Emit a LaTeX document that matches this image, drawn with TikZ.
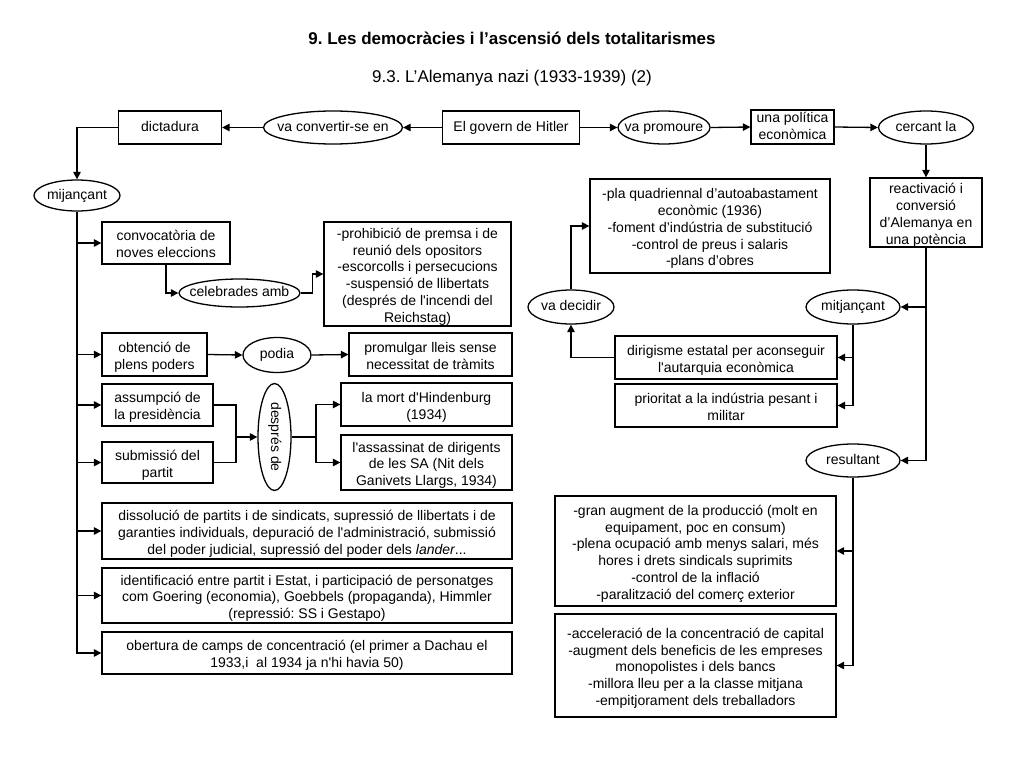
\documentclass[tikz,border=0pt]{standalone}
\usepackage{fontspec}
\newfontfamily\arial{Liberation Sans}
\usetikzlibrary{shapes.geometric,arrows.meta}
\frenchspacing
\newcommand{\ts}{\rule{0pt}{15.5pt}}
\tikzset{
  box/.style={draw, line width=1.3pt, inner sep=0pt, align=center},
  boxone/.style={draw, line width=1.3pt, inner sep=0pt, text height=10pt, text depth=3pt},
  oval/.style={draw, ellipse, line width=1.3pt, inner sep=0pt, text height=10pt, text depth=3pt},
  con/.style={line width=1.3pt},
  arr/.style={line width=1.3pt, -{Triangle[length=7.5pt,width=7.5pt]}},
}
\newcommand{\zb}[1]{\makebox[0pt]{#1}}
\begin{document}
\begin{tikzpicture}[x=1pt,y=-1pt,font=\arial\fontsize{14}{16.8}\selectfont]
\useasboundingbox[fill=white] (0,0) rectangle (1024,768);
% titles
\node[font=\arial\fontsize{17}{20}\selectfont\bfseries] (title) at (512,38) {9. Les democràcies i l’ascensió dels totalitarismes};
\node[font=\arial\fontsize{17}{20}\selectfont] (subtitle) at (512,78) {9.3. L’Alemanya nazi (1933-1939) (2)};
% top row
\node[boxone, minimum width=137, minimum height=33] (hit) at (511,127.5) {El govern de Hitler};
\node[oval, minimum width=139, minimum height=33] (conv) at (333,127.5) {\zb{va convertir-se en}};
\node[boxone, minimum width=103, minimum height=33] (dict) at (170,127.5) {dictadura};
\node[oval, minimum width=92, minimum height=33] (prom) at (664,127.5) {\zb{va promoure}};
\node[box, minimum width=83, minimum height=34] (pol) at (792.5,127) {una política\\econòmica\vphantom{g}};
\node[oval, minimum width=95, minimum height=33] (cer) at (926,127.5) {\zb{cercant la}};
% right side
\node[box, minimum width=112, minimum height=69] (rea) at (926,212.5) {\ts reactivació i\\conversió\\d’Alemanya en\\una potència\vphantom{g}};
\node[box, minimum width=240, minimum height=94] (pla) at (710,226) {\ts -pla quadriennal d’autoabastament\\econòmic (1936)\\-foment d’indústria de substitució\\-control de preus i salaris\\-plans d’obres};
\node[oval, minimum width=86, minimum height=34] (dec) at (571,307) {\zb{va decidir}};
\node[oval, minimum width=94, minimum height=34] (mit) at (853,307) {\zb{mitjançant}};
\node[box, minimum width=222, minimum height=43] (dir) at (726,357.5) {\ts dirigisme estatal per aconseguir\\l'autarquia econòmica\vphantom{g}};
\node[box, minimum width=222, minimum height=43] (pri) at (726,405.5) {\ts prioritat a la indústria pesant i\\militar\vphantom{g}};
\node[oval, minimum width=94, minimum height=33] (res) at (853,460.5) {\zb{resultant}};
\node[box, minimum width=281, minimum height=110] (gran) at (695.5,551) {\ts -gran augment de la producció (molt en\\equipament, poc en consum)\\-plena ocupació amb menys salari, més\\hores i drets sindicals suprimits\\-control de la inflació\\-paralització del comerç exterior\vphantom{g}};
\node[box, minimum width=281, minimum height=103] (acc) at (695.5,665.5) {\ts -acceleració de la concentració de capital\\-augment dels beneficis de les empreses\\monopolistes i dels bancs\\-millora lleu per a la classe mitjana\\-empitjorament dels treballadors\vphantom{g}};
% left side
\node[oval, minimum width=86, minimum height=31] (mij) at (77,195.5) {\zb{mijançant}};
\node[box, minimum width=128, minimum height=42] (con) at (166,243) {\ts convocatòria de\\noves eleccions\vphantom{g}};
\node[oval, minimum width=121, minimum height=28] (cel) at (239.5,293) {\zb{celebrades amb}};
\node[box, minimum width=187, minimum height=104] (pro) at (417.5,274) {\ts -prohibició de premsa i de\\reunió dels opositors\\-escorcolls i persecucions\\-suspensió de llibertats\\(després de l'incendi del\\Reichstag)};
\node[box, minimum width=105, minimum height=43] (obt) at (154.5,354.5) {\ts obtenció de\\plens poders};
\node[oval, minimum width=68, minimum height=35] (pod) at (277,355) {\zb{podia}};
\node[box, minimum width=163, minimum height=43] (prm) at (430.5,354.5) {\ts promulgar lleis sense\\necessitat de tràmits\vphantom{g}};
\node[box, minimum width=111, minimum height=42] (ass) at (157.5,405) {\ts assumpció de\\la presidència\vphantom{g}};
\node[box, minimum width=111, minimum height=41] (sub) at (157.5,462.5) {\ts submissió del\\partit\vphantom{g}};
\node[oval, rotate=-90, minimum width=107, minimum height=33] (des) at (274.5,437) {\zb{després de}};
\node[box, minimum width=171, minimum height=43] (mor) at (426.5,404.5) {\ts la mort d'Hindenburg\\(1934)};
\node[box, minimum width=171, minimum height=55] (asn) at (426.5,462.5) {\ts l'assassinat de dirigents\\de les SA (Nit dels\\Ganivets Llargs, 1934)};
\node[box, minimum width=410, minimum height=56] (dis) at (307,531) {\ts dissolució de partits i de sindicats, supressió de llibertats i de\\garanties individuals, depuració de l'administració, submissió\\del poder judicial, supressió del poder dels \textit{lander}...\vphantom{g}};
\node[box, minimum width=410, minimum height=55] (ide) at (307,595.5) {\ts identificació entre partit i Estat, i participació de personatges\\com Goering (economia), Goebbels (propaganda), Himmler\\(repressió: SS i Gestapo)};
\node[box, minimum width=410, minimum height=42] (obe) at (307,653) {\ts obertura de camps de concentració (el primer a Dachau el\\1933,i\ \ al 1934 ja n'hi havia 50)};
% connectors top
\draw[arr] (hit.west) -- (conv.east);
\draw[arr] (conv.west) -- (dict.east);
\draw[arr] (hit.east) -- (prom.west);
\draw[arr] (prom.east) -- (pol.west);
\draw[arr] (pol.east) -- (cer.west);
\draw[arr] (cer.south) -- (rea.north);
% left trunk
\draw[arr] (dict.west) -| (mij.north);
\draw[arr] (mij.south) |- (obe.west);
\draw[arr] (mij.south |- con.west) -- (con.west);
\draw[arr] (mij.south |- obt.west) -- (obt.west);
\draw[arr] (mij.south |- ass.west) -- (ass.west);
\draw[arr] (mij.south |- sub.west) -- (sub.west);
\draw[arr] (mij.south |- dis.west) -- (dis.west);
\draw[arr] (mij.south |- ide.west) -- (ide.west);
\draw[arr] (con.south) |- (cel.west);
\draw[arr] (cel.east) -- ++(12,0) |- (pro.west);
\draw[arr] (obt.east) -- (pod.west);
\draw[arr] (pod.east) -- (prm.west);
\coordinate (jl) at (236,437);
\coordinate (jr) at (316,437);
\draw[con] (ass.east) -| (jl);
\draw[con] (sub.east) -| (jl);
\draw[arr] (jl) -- (des);
\draw[con] (des) -- (jr);
\draw[arr] (jr) |- (mor.west);
\draw[arr] (jr) |- (asn.west);
% right
\coordinate (rt) at (rea.south |- res.east);
\draw[con] (rea.south) -- (rt);
\draw[arr] (rea.south |- mit.east) -- (mit.east);
\draw[arr] (rt) -- (res.east);
\draw[arr] (mit.south) |- (pri.east);
\draw[arr] (mit.south |- dir.east) -- (dir.east);
\draw[arr] (dir.west) -| (dec.south);
\draw[arr] (dec.north) |- (pla.west);
\draw[arr] (res.south) |- (acc.east);
\draw[arr] (res.south |- gran.east) -- (gran.east);
\end{tikzpicture}
\end{document}
